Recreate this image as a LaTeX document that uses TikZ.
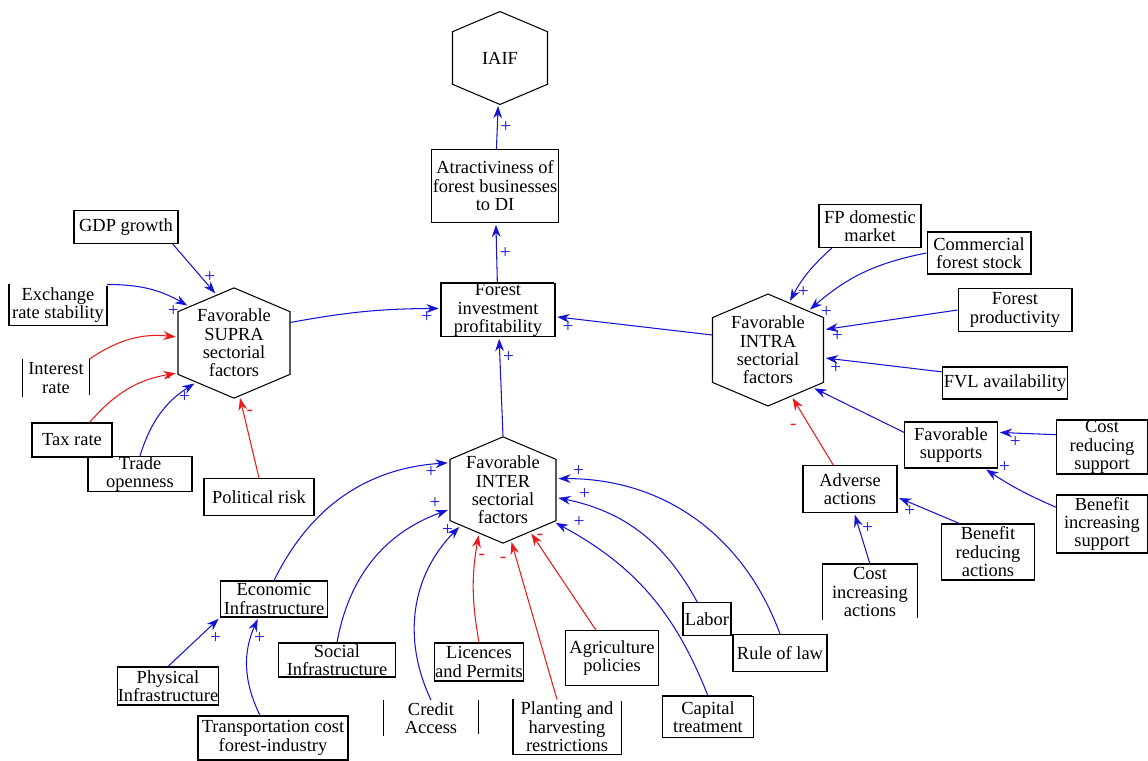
\documentclass[tikz,border=0pt]{standalone}
\usepackage{fontspec}
\setmainfont{Liberation Serif}
\usetikzlibrary{shapes.symbols,arrows.meta}
\definecolor{linkblue}{RGB}{20,20,215}
\definecolor{linkred}{RGB}{235,25,25}

\begin{document}
\begin{tikzpicture}[x=0.02cm,y=-0.02cm,->,>={Stealth[length=7pt,width=5pt]},shorten >=1pt,line width=0.6pt,
    main node/.style={draw,line width=0.6pt,align=center,inner sep=0pt,font=\fontsize{10.5}{10.5}\selectfont},
    bare node/.style={main node,draw=none},
    hex node/.style={main node,signal,signal to=north and south,signal pointer angle=134,minimum height=0pt},
    sign label/.style={font=\fontsize{11}{11}\selectfont,inner sep=1.5pt}]
    \useasboundingbox (0,0) rectangle (1148,760);

    % hexagons and the central chain
    \node[hex node,minimum width=1.9cm,inner ysep=11.5pt] (1) at (500,58) {IAIF};
    \node[main node,minimum width=2.54cm,minimum height=1.46cm] (2) at (495,186) {Atractiviness of\\forest businesses\\to DI};
    \node[main node,minimum width=2.28cm,minimum height=1.06cm] (3) at (498,310) {Forest\\investment\\profitability};
    \node[hex node,minimum width=2.24cm,inner ysep=-1.6pt] (4) at (234,343) {Favorable\\SUPRA\\sectorial\\factors};
    \node[hex node,minimum width=2.22cm,inner ysep=-1pt] (5) at (768,350) {Favorable\\INTRA\\sectorial\\factors};
    \node[hex node,minimum width=2.12cm,inner ysep=-2pt] (6) at (503,490) {Favorable\\INTER\\sectorial\\factors};

    % supra sectorial
    \node[main node,minimum width=2.08cm,minimum height=0.66cm] (7) at (126,227) {GDP growth};
    \node[bare node,minimum width=1.94cm,minimum height=0.8cm] (8) at (58,305) {Exchange\\rate stability};
    \node[bare node,minimum width=1.32cm,minimum height=0.74cm] (9) at (56,378) {Interest\\rate};
    \node[main node,minimum width=1.6cm,minimum height=0.68cm] (10) at (72,440) {Tax rate};
    \node[main node,minimum width=2.08cm,minimum height=0.7cm] (11) at (140,474) {Trade\\openness};
    \node[main node,minimum width=2.2cm,minimum height=0.74cm] (12) at (259,497) {Political risk};

    % inter sectorial
    \node[main node,minimum width=2.14cm,minimum height=0.72cm] (13) at (274,599) {Economic\\Infrastructure};
    \node[main node,minimum width=1.84cm,minimum height=0.76cm] (14) at (168,686) {Physical\\Infrastructure};
    \node[main node,minimum width=3cm,minimum height=0.88cm] (15) at (273,738) {Transportation cost\\forest-industry};
    \node[main node,minimum width=2.34cm,minimum height=0.68cm] (16) at (337,660) {Social\\Infrastructure};
    \node[bare node,minimum width=1.88cm,minimum height=0.7cm] (17) at (431,718) {Credit\\Access};
    \node[main node,minimum width=1.78cm,minimum height=0.76cm] (18) at (479,662) {Licences\\and Permits};
    \node[bare node,minimum width=2.14cm,minimum height=1.08cm] (19) at (567,727) {Planting and\\harvesting\\restrictions};
    \node[main node,minimum width=1.86cm,minimum height=1.1cm] (20) at (612,658) {Agriculture\\policies};
    \node[main node,minimum width=1.82cm,minimum height=0.82cm] (21) at (708,717) {Capital\\treatment};
    \node[main node,minimum width=0.96cm,minimum height=0.66cm] (22) at (707,619) {Labor};
    \node[main node,minimum width=1.88cm,minimum height=0.74cm] (23) at (780,653) {Rule of law};

    % intra sectorial
    \node[main node,minimum width=2.04cm,minimum height=0.86cm] (24) at (870,226) {FP domestic\\market};
    \node[main node,minimum width=2.08cm,minimum height=0.84cm] (25) at (979,253) {Commercial\\forest stock};
    \node[main node,minimum width=2.28cm,minimum height=0.86cm] (26) at (1015,310) {Forest\\productivity};
    \node[main node,minimum width=2.5cm,minimum height=0.64cm] (27) at (1005,383) {FVL availability};
    \node[main node,minimum width=1.86cm,minimum height=0.92cm] (28) at (951,445) {Favorable\\supports};
    \node[main node,minimum width=1.82cm,minimum height=1.08cm] (29) at (1102,447) {Cost\\reducing\\support};
    \node[main node,minimum width=1.88cm,minimum height=0.94cm] (30) at (850,489) {Adverse\\actions};
    \node[main node,minimum width=1.86cm,minimum height=1.12cm] (31) at (988,552) {Benefit\\reducing\\actions};
    \node[main node,minimum width=1.82cm,minimum height=1.16cm] (32) at (1102,524) {Benefit\\increasing\\support};
    \node[bare node,minimum width=1.88cm,minimum height=1.1cm] (33) at (870,592) {Cost\\increasing\\actions};

    % open borders
    \draw[-] (8.north west) -- (8.south west) -- (8.south east) -- (8.north east);
    \draw[-] (9.north west) -- (9.south west) (9.north east) -- (9.south east);
    \draw[-] (17.north west) -- (17.south west) (17.north east) -- (17.south east);
    \draw[-] (19.north west) -- (19.south west) -- (19.south east) -- (19.north east);
    \draw[-] (33.south west) -- (33.north west) -- (33.north east) -- (33.south east);
    \draw[-,line width=1.5pt] (3.north west) -- (3.north east);
    \draw[-,line width=1.5pt] (21.north west) -- (21.north east);

    \path[color=linkblue,every node/.style={sign label}]
        (2) edge node[pos=.5,right] {+} (1)
        (3) edge node[pos=.5,right] {+} (2)
        (4.20) edge[bend left=5] node[pos=.92,below] {+} (3)
        (5.165) edge node[pos=.92,below] {+} (3)
        (6.north) edge node[pos=.8,right] {+} (3)
        (7.-20) edge node[pos=.65,right] {+} (4.110)
        (8.north east) edge[bend left=15] node[pos=.92,below left] {+} (4.141)
        (11.north) edge[bend left=20] node[pos=.75,right] {+} (4.226)
        (24.210) edge[bend right=10] node[pos=.85,right] {+} (5.66)
        (25.west) edge[bend right=15] node[pos=.92,below right] {+} (5.44)
        (26.west) edge node[pos=.9,below] {+} (5.20)
        (27.170) edge node[pos=.9,below] {+} (5.-8)
        (28.165) edge (5.-40)
        (29.165) edge node[pos=.7,below] {+} (28.15)
        (32.160) edge[bend left=5] node[pos=.85,above right] {+} (28.-35)
        (31.135) edge node[pos=.8,below] {+} (30.-10)
        (33.north) edge node[pos=.7,right] {+} (30.-80)
        (14.north) edge node[pos=.75,below right] {+} (13.south west)
        (15.120) edge[bend left=25] node[pos=.8,right] {+} (13.230)
        (13.north) edge[bend left=30] node[pos=.96,below left] {+} (6.153)
        (16.north) edge[bend left=30] node[pos=.97,above left] {+} (6.200)
        (17.north) edge[bend left=35] node[pos=.97,left] {+} (6.220)
        (21.north) edge[bend right=20] node[pos=.93,above right] {+} (6.-32)
        (22.120) edge[bend right=25] node[pos=.9,above right] {+} (6.-8)
        (23.north) edge[bend right=35] node[pos=.93,above] {+} (6.12)
        ;
    \path[color=linkred,every node/.style={sign label}]
        (9.north east) edge[bend left=20] (4.174)
        (10.45) edge[bend left=20] node[pos=.97,below left] {-} (4.208)
        (12.north) edge node[pos=.8,right] {-} (4.276)
        (30.125) edge node[pos=.55,left=6pt] {-} (5.-63)
        (18.north) edge[bend left=10] node[pos=.8,right] {-} (6.241)
        (19.110) edge node[pos=.88,left=4pt] {-} (6.279)
        (20.120) edge node[pos=.95,right] {-} (6.303)
        ;
\end{tikzpicture}
\end{document}
